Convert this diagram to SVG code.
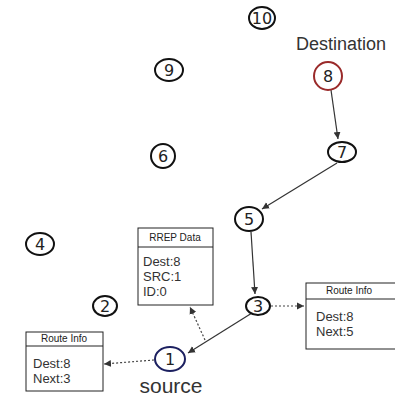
<svg xmlns="http://www.w3.org/2000/svg" width="395" height="399" viewBox="0 0 395 399">
<defs>
<marker id="ah" markerWidth="8" markerHeight="8" refX="7" refY="4" orient="auto" markerUnits="userSpaceOnUse">
<path d="M0,0.5 L7,4 L0,7.5 Z" fill="#333"/>
</marker>
<style>
.node ellipse{fill:#fff;stroke:#111;stroke-width:2}
.num{font-family:"DejaVu Sans",sans-serif;font-size:16px;fill:#222;text-anchor:middle}
.lbl{font-family:"Liberation Sans",sans-serif;fill:#333;text-anchor:middle}
.box rect{fill:#fff;stroke:#222;stroke-width:1}
.box line{stroke:#222;stroke-width:1}
.hdr{font-family:"Liberation Sans",sans-serif;font-size:10px;fill:#222;text-anchor:middle}
.body{font-family:"Liberation Sans",sans-serif;font-size:13px;fill:#333}
.solid{stroke:#333;stroke-width:1.2;fill:none;marker-end:url(#ah)}
.dot{stroke:#444;stroke-width:1.2;fill:none;stroke-dasharray:2,2;marker-end:url(#ah)}
</style>
</defs>
<rect width="395" height="399" fill="#fff"/>

<g id="connectors">
<line class="solid" x1="331" y1="90" x2="338" y2="139"/>
<line class="solid" x1="337" y1="163" x2="262" y2="209"/>
<line class="solid" x1="251" y1="232" x2="255" y2="294"/>
<line class="solid" x1="252" y1="313" x2="188" y2="353"/>
<line class="dot" x1="271" y1="306" x2="304" y2="306"/>
<line class="dot" x1="205" y1="340" x2="190" y2="307"/>
<line class="dot" x1="154" y1="360" x2="104" y2="364"/>
</g>

<g id="node10" class="node"><ellipse cx="262" cy="18" rx="13" ry="11"/><text class="num" x="262" y="24">10</text></g>
<g id="dest-label"><text class="lbl" x="341" y="50" font-size="18">Destination</text></g>
<g id="node8" class="node"><ellipse cx="328" cy="76" rx="14" ry="14" style="stroke:#9a2a2a"/><text class="num" x="328" y="82">8</text></g>
<g id="node9" class="node"><ellipse cx="169" cy="70" rx="14" ry="11"/><text class="num" x="169" y="76">9</text></g>
<g id="node7" class="node"><ellipse cx="342" cy="152" rx="14" ry="10"/><text class="num" x="342" y="158">7</text></g>
<g id="node6" class="node"><ellipse cx="163" cy="156" rx="12" ry="12"/><text class="num" x="163" y="162">6</text></g>
<g id="node5" class="node"><ellipse cx="249" cy="219" rx="14" ry="12"/><text class="num" x="249" y="225">5</text></g>
<g id="node4" class="node"><ellipse cx="40" cy="244" rx="14" ry="11"/><text class="num" x="40" y="250">4</text></g>
<g id="node3" class="node"><ellipse cx="258" cy="306" rx="12" ry="9"/><text class="num" x="258" y="312">3</text></g>
<g id="node2" class="node"><ellipse cx="105" cy="306" rx="12" ry="10"/><text class="num" x="105" y="312">2</text></g>
<g id="node1" class="node"><ellipse cx="170" cy="359" rx="15" ry="12" style="stroke:#1c2060"/><text class="num" x="170" y="365">1</text></g>
<g id="source-label"><text class="lbl" x="171" y="393" font-size="21">source</text></g>

<g id="rrep-box" class="box">
<rect x="138" y="228" width="75" height="77"/>
<line x1="138" y1="247" x2="213" y2="247"/>
<text class="hdr" x="175" y="241">RREP Data</text>
<text class="body" x="143" y="266">Dest:8</text>
<text class="body" x="143" y="281">SRC:1</text>
<text class="body" x="143" y="296">ID:0</text>
</g>

<g id="route-right" class="box">
<rect x="306" y="283" width="92" height="66"/>
<line x1="306" y1="299" x2="398" y2="299"/>
<text class="hdr" x="349" y="294">Route Info</text>
<text class="body" x="316" y="321">Dest:8</text>
<text class="body" x="316" y="336">Next:5</text>
</g>

<g id="route-left" class="box">
<rect x="26" y="332" width="77" height="59"/>
<line x1="26" y1="346" x2="103" y2="346"/>
<text class="hdr" x="64" y="342">Route Info</text>
<text class="body" x="33" y="368">Dest:8</text>
<text class="body" x="33" y="383">Next:3</text>
</g>
</svg>
